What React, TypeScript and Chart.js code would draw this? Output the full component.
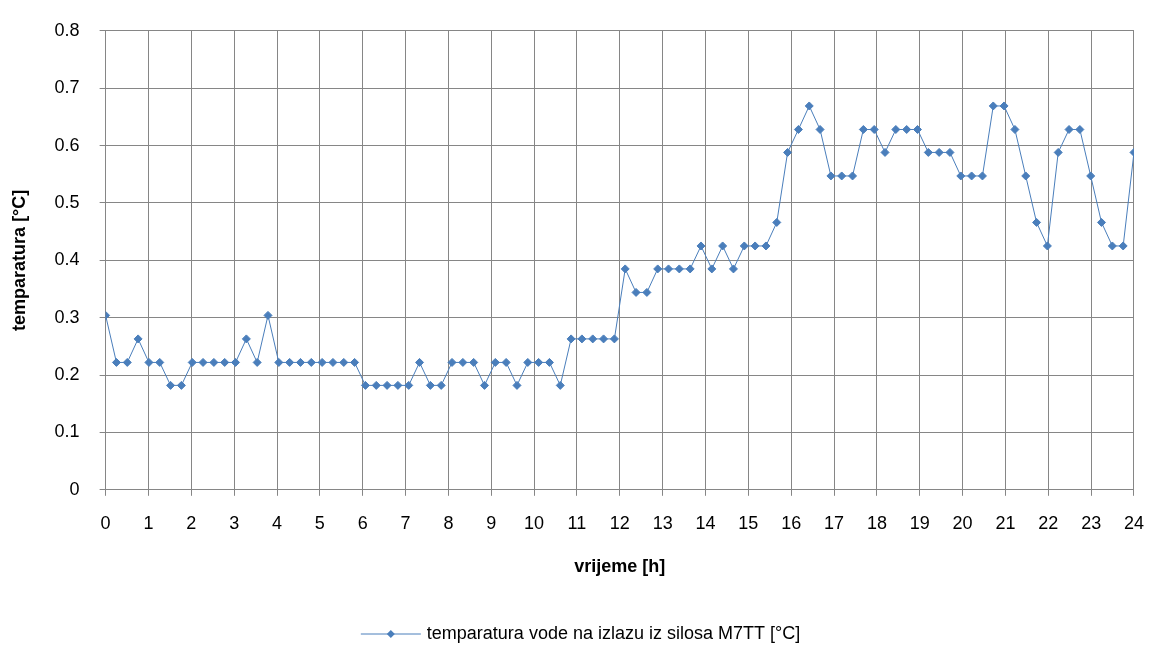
import { useEffect, useRef } from "react"
import { Chart, registerables } from "chart.js"

Chart.register(...registerables)

const values = [
  0.304, 0.222, 0.222, 0.263, 0.222, 0.222, 0.182, 0.182, 0.222, 0.222, 0.222, 0.222,
  0.222, 0.263, 0.222, 0.304, 0.222, 0.222, 0.222, 0.222, 0.222, 0.222, 0.222, 0.222,
  0.182, 0.182, 0.182, 0.182, 0.182, 0.222, 0.182, 0.182, 0.222, 0.222, 0.222, 0.182,
  0.222, 0.222, 0.182, 0.222, 0.222, 0.222, 0.182, 0.263, 0.263, 0.263, 0.263, 0.263,
  0.385, 0.344, 0.344, 0.385, 0.385, 0.385, 0.385, 0.425, 0.385, 0.425, 0.385, 0.425,
  0.425, 0.425, 0.466, 0.588, 0.628, 0.669, 0.628, 0.547, 0.547, 0.547, 0.628, 0.628,
  0.588, 0.628, 0.628, 0.628, 0.588, 0.588, 0.588, 0.547, 0.547, 0.547, 0.669, 0.669,
  0.628, 0.547, 0.466, 0.425, 0.588, 0.628, 0.628, 0.547, 0.466, 0.425, 0.425, 0.588,
]
const hours = values.map((_, i) => (i * 24) / (values.length - 1))
const seriesLabel = "temparatura vode na izlazu iz silosa M7TT [°C]"

const blue = "#4a7ebb"
const font = "'Liberation Sans', Arial, sans-serif"

const legendPlugin = {
  id: "lineLegend",
  afterDraw(chart: Chart) {
    const ctx = chart.ctx
    const y = 634
    ctx.save()
    ctx.font = `18px ${font}`
    const tw = ctx.measureText(seriesLabel).width
    const total = 60 + 6 + tw
    const x0 = (chart.width - total) / 2
    ctx.strokeStyle = blue
    ctx.lineWidth = 1
    ctx.beginPath()
    ctx.moveTo(x0, y)
    ctx.lineTo(x0 + 60, y)
    ctx.stroke()
    ctx.fillStyle = blue
    ctx.beginPath()
    ctx.moveTo(x0 + 30, y - 4)
    ctx.lineTo(x0 + 34, y)
    ctx.lineTo(x0 + 30, y + 4)
    ctx.lineTo(x0 + 26, y)
    ctx.closePath()
    ctx.fill()
    ctx.fillStyle = "#000"
    ctx.textBaseline = "middle"
    ctx.fillText(seriesLabel, x0 + 66, y)
    ctx.restore()
  },
}

export default function App() {
  const chartRef = useRef<HTMLCanvasElement>(null)
  const chartInstance = useRef<Chart | null>(null)

  useEffect(() => {
    document.body.style.margin = "0"
    if (!chartRef.current) return
    if (chartInstance.current) chartInstance.current.destroy()

    chartInstance.current = new Chart(chartRef.current, {
      type: "line",
      data: {
        datasets: [
          {
            label: seriesLabel,
            data: hours.map((h, i) => ({ x: h, y: values[i] })),
            borderColor: blue,
            backgroundColor: blue,
            borderWidth: 1,
            pointStyle: "rectRot",
            pointRadius: 4,
            pointHoverRadius: 4,
            tension: 0,
          },
        ],
      },
      options: {
        animation: false,
        responsive: true,
        maintainAspectRatio: false,
        layout: { padding: { left: 5, right: 15, top: 5, bottom: 66 } },
        plugins: { legend: { display: false }, tooltip: { enabled: false } },
        scales: {
          x: {
            type: "linear",
            min: 0,
            max: 24,
            ticks: { stepSize: 1, color: "#000", font: { size: 18, family: font }, padding: 17 },
            grid: { color: "#868686", tickLength: 6 },
            border: { color: "#868686" },
            title: {
              display: true,
              text: "vrijeme [h]",
              color: "#000",
              font: { size: 18, weight: "bold", family: font },
              padding: { top: 5, bottom: 4 },
            },
          },
          y: {
            min: 0,
            max: 0.8,
            ticks: { stepSize: 0.1, color: "#000", font: { size: 18, family: font }, padding: 20 },
            grid: { color: "#868686", tickLength: 6 },
            border: { color: "#868686" },
            title: {
              display: true,
              text: "temparatura [°C]",
              color: "#000",
              font: { size: 18, weight: "bold", family: font },
            },
          },
        },
      },
      plugins: [legendPlugin],
    })

    return () => {
      if (chartInstance.current) {
        chartInstance.current.destroy()
        chartInstance.current = null
      }
    }
  }, [])

  return (
    <div style={{ width: 1161, height: 648, background: "#fff" }}>
      <canvas ref={chartRef} />
    </div>
  )
}
